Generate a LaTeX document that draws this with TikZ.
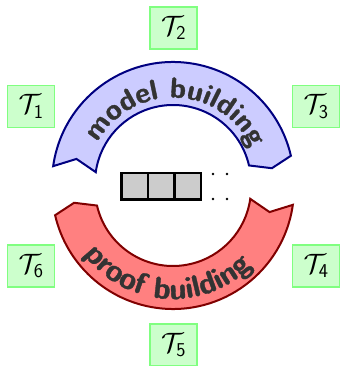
\RequirePackage{fix-cm}
\documentclass[tikz,border=0pt]{standalone}
\usepackage{fontspec}
\newfontfamily\hsans[FakeBold=1.2]{lmsans10-bold.otf}
\usetikzlibrary{decorations.text}
\begin{document}
\begin{tikzpicture}[x=1pt,y=1pt,
  tbox/.style={draw=green!50, fill=green!20, line width=1.5pt, minimum width=47pt, minimum height=42pt, inner sep=0pt, font=\fontsize{28}{30}\selectfont},
  cell/.style={draw=black, fill=black!20, line width=2.5pt, minimum width=26.5pt, minimum height=26.5pt, inner sep=0pt},
  arrowtop/.style={draw=blue!50!black, fill=blue!20, line width=2pt, line join=miter},
  arrowbot/.style={draw=red!50!black, fill=red!50, line width=2pt, line join=miter},
  ftext/.style={decorate, decoration={text along path, text align=center, text color=black!80}}
]
\useasboundingbox (0,0) rectangle (340,366);
% boxes
\node[tbox] (t1) at (31,259.5) {$\mathcal{T}_{\mathsf{1}}$};
\node[tbox] (t2) at (173.5,338) {$\mathcal{T}_{\mathsf{2}}$};
\node[tbox] (t3) at (316,259.5) {$\mathcal{T}_{\mathsf{3}}$};
\node[tbox] (t4) at (316,100) {$\mathcal{T}_{\mathsf{4}}$};
\node[tbox] (t5) at (173.5,21) {$\mathcal{T}_{\mathsf{5}}$};
\node[tbox] (t6) at (31,100) {$\mathcal{T}_{\mathsf{6}}$};
% top arrow
\begin{scope}[shift={(173,183)}]
\draw[arrowtop] (172:121pt) arc[start angle=172, end angle=13, radius=121pt]
  -- (8.5:100pt) -- (13:78pt) arc[start angle=13, end angle=172, radius=78pt]
  -- (166:99.5pt) -- cycle;
\path[ftext, decoration={text={|\hsans\fontsize{28.5}{32}\selectfont|model building}}]
  (165:85.5pt) arc[start angle=165, end angle=11, radius=85.5pt];
\end{scope}
% bottom arrow
\begin{scope}[shift={(173,178)}]
\draw[arrowbot] (352:121pt) arc[start angle=352, end angle=193, radius=121pt]
  -- (188.5:100pt) -- (193:78pt) arc[start angle=193, end angle=352, radius=78pt]
  -- (346:99.5pt) -- cycle;
\path[ftext, decoration={text={|\hsans\fontsize{30.5}{33}\selectfont|proof building}}]
  (206:111pt) arc[start angle=206, end angle=326, radius=111pt];
\end{scope}
% cells
\node[cell] (c1) at (134.5,179.5) {};
\node[cell] (c2) at (161,179.5) {};
\node[cell] (c3) at (187.5,179.5) {};
\foreach \p in {(213,192),(227,192),(213,167),(227,167)}
  \fill \p circle[radius=1.4pt];
\end{tikzpicture}
\end{document}
